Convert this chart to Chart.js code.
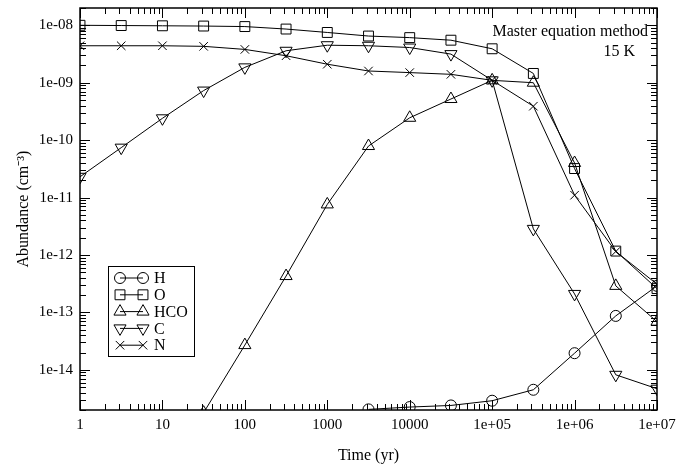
<!DOCTYPE html>
<html>
<head>
<meta charset="utf-8">
<script src="https://cdn.jsdelivr.net/npm/chart.js@4/dist/chart.umd.min.js"></script>
<style>
  html, body { margin: 0; padding: 0; background: #fff; }
  #wrap { width: 693px; height: 467px; }
</style>
</head>
<body>
<div id="wrap"><canvas id="chartAbund"></canvas></div>
<script>
// ---- data ----
const TIMES = [1, 3.162, 10, 31.62, 100, 316.2, 1000, 3162, 1e4, 3.162e4, 1e5, 3.162e5, 1e6, 3.162e6, 1e7];
const H_VALS   = [null, null, null, null, null, null, null, 2.05e-15, 2.25e-15, 2.4e-15, 2.9e-15, 4.5e-15, 1.95e-14, 8.7e-14, 2.9e-13];
const O_VALS   = [1.0e-8, 9.9e-9, 9.8e-9, 9.7e-9, 9.5e-9, 8.6e-9, 7.5e-9, 6.5e-9, 6.1e-9, 5.5e-9, 3.9e-9, 1.45e-9, 3.2e-11, 1.17e-12, 2.6e-13];
const HCO_VALS = [null, null, null, 1.8e-15, 2.7e-14, 4.3e-13, 7.6e-12, 7.9e-11, 2.45e-10, 5.2e-10, 1.1e-9, 1.0e-9, 4.0e-11, 2.9e-13, 6.9e-14];
const C_VALS   = [2.3e-11, 7.4e-11, 2.4e-10, 7.3e-10, 1.85e-9, 3.6e-9, 4.5e-9, 4.4e-9, 4.1e-9, 3.15e-9, 1.1e-9, 2.85e-12, 2.1e-13, 8.2e-15, 4.7e-15];
const N_VALS   = [4.4e-9, 4.4e-9, 4.4e-9, 4.3e-9, 3.8e-9, 2.95e-9, 2.1e-9, 1.6e-9, 1.5e-9, 1.4e-9, 1.1e-9, 3.9e-10, 1.1e-11, 1.15e-12, 3.1e-13];

const X_TICKS = [1, 10, 100, 1000, 1e4, 1e5, 1e6, 1e7];
const X_TICK_LABELS = ['1', '10', '100', '1000', '10000', '1e+05', '1e+06', '1e+07'];
const Y_TICKS = [1e-14, 1e-13, 1e-12, 1e-11, 1e-10, 1e-9, 1e-8];
const Y_TICK_LABELS = ['1e-14', '1e-13', '1e-12', '1e-11', '1e-10', '1e-09', '1e-08'];

const SERIF = "'Liberation Serif', 'Times New Roman', serif";

function pts(vals) {
    return TIMES.map((t, i) => ({ x: t, y: vals[i] }));
}

function series(label, vals, style, radius, rotation) {
    return {
        label: label,
        data: pts(vals),
        showLine: true,
        borderColor: '#000', borderWidth: 1,
        pointStyle: style, pointRadius: radius, pointRotation: rotation || 0,
        pointBorderColor: '#000', pointBackgroundColor: 'rgba(0,0,0,0)',
        pointBorderWidth: 1, pointHoverRadius: radius,
    };
}

// frame, inward ticks on all sides, legend and annotation
const decorations = {
    id: 'decorations',
    afterDraw(chart) {
        const ctx = chart.ctx;
        const a = chart.chartArea;
        const xs = chart.scales.x, ys = chart.scales.y;
        ctx.save();
        ctx.strokeStyle = '#000';
        ctx.lineWidth = 1;

        // x ticks (bottom and top)
        for (let e = 0; e <= 7; e++) {
            for (let m = 1; m <= 9; m++) {
                const v = m * Math.pow(10, e);
                if (v > 1e7) break;
                const px = Math.round(xs.getPixelForValue(v)) + 0.5;
                const len = m === 1 ? 10 : 6;
                ctx.beginPath();
                ctx.moveTo(px, a.bottom); ctx.lineTo(px, a.bottom - len);
                ctx.moveTo(px, a.top); ctx.lineTo(px, a.top + len);
                ctx.stroke();
            }
        }
        // y ticks (left and right)
        for (let e = -15; e <= -8; e++) {
            for (let m = 1; m <= 9; m++) {
                const v = m * Math.pow(10, e);
                if (v < ys.min || v > ys.max) continue;
                const py = Math.round(ys.getPixelForValue(v)) + 0.5;
                const len = m === 1 ? 10 : 6;
                ctx.beginPath();
                ctx.moveTo(a.left, py); ctx.lineTo(a.left + len, py);
                ctx.moveTo(a.right, py); ctx.lineTo(a.right - len, py);
                ctx.stroke();
            }
        }

        // frame
        ctx.lineWidth = 1.5;
        ctx.strokeRect(a.left, a.top, a.right - a.left, a.bottom - a.top);

        // annotation
        ctx.fillStyle = '#000';
        ctx.font = '16px ' + SERIF;
        ctx.textAlign = 'right';
        ctx.textBaseline = 'middle';
        ctx.fillText('Master equation method', 648, 32);
        ctx.fillText('15 K', 635, 52);

        // legend
        ctx.lineWidth = 1;
        ctx.strokeRect(108.5, 266.5, 86, 90);
        ctx.textAlign = 'left';
        chart.data.datasets.forEach((ds, i) => {
            const y = 278 + i * 16.8;
            ctx.beginPath();
            ctx.moveTo(120, y); ctx.lineTo(143, y);
            ctx.stroke();
            const opt = { pointStyle: ds.pointStyle, rotation: ds.pointRotation, radius: ds.pointRadius, borderWidth: 1 };
            ctx.fillStyle = 'rgba(0,0,0,0)';
            Chart.helpers.drawPoint(ctx, opt, 120, y);
            Chart.helpers.drawPoint(ctx, opt, 143, y);
            ctx.fillStyle = '#000';
            ctx.fillText(ds.label, 154, y + 1);
        });
        ctx.restore();
    }
};

new Chart(document.getElementById('chartAbund'), {
    type: 'scatter',
    data: {
        datasets: [
            series('H', H_VALS, 'circle', 5.5),
            series('O', O_VALS, 'rect', 7),
            series('HCO', HCO_VALS, 'triangle', 7),
            series('C', C_VALS, 'triangle', 7, 180),
            series('N', N_VALS, 'crossRot', 6),
        ]
    },
    options: {
        responsive: true, maintainAspectRatio: false,
        animation: false,
        layout: { padding: { left: 0, top: 6, right: 36, bottom: 0 } },
        plugins: { legend: { display: false }, tooltip: { enabled: false } },
        scales: {
            x: {
                type: 'logarithmic', min: 1, max: 1e7,
                grid: { display: false, drawTicks: false },
                border: { display: false },
                afterBuildTicks: s => { s.ticks = X_TICKS.map(v => ({ value: v })); },
                afterFit: s => { s.height = 57; s.paddingLeft = 0; s.paddingRight = 0; },
                ticks: {
                    color: '#000', padding: 6, maxRotation: 0, autoSkip: false,
                    font: { family: SERIF, size: 15 },
                    callback: (v, i) => X_TICK_LABELS[i]
                },
                title: { display: true, text: 'Time (yr)', color: '#000', font: { family: SERIF, size: 16 }, padding: { top: 0, bottom: 2 } }
            },
            y: {
                type: 'logarithmic', min: 2e-15, max: 2e-8,
                grid: { display: false, drawTicks: false },
                border: { display: false },
                afterBuildTicks: s => { s.ticks = Y_TICKS.map(v => ({ value: v })); },
                afterFit: s => { s.width = 80; s.paddingTop = 0; s.paddingBottom = 0; },
                ticks: {
                    color: '#000', padding: 7, autoSkip: false,
                    font: { family: SERIF, size: 15 },
                    callback: (v, i) => Y_TICK_LABELS[i]
                },
                title: { display: true, text: 'Abundance (cm⁻³)', color: '#000', font: { family: SERIF, size: 16 }, padding: { top: 14, bottom: 0 } }
            }
        }
    },
    plugins: [decorations]
});
</script>
</body>
</html>
